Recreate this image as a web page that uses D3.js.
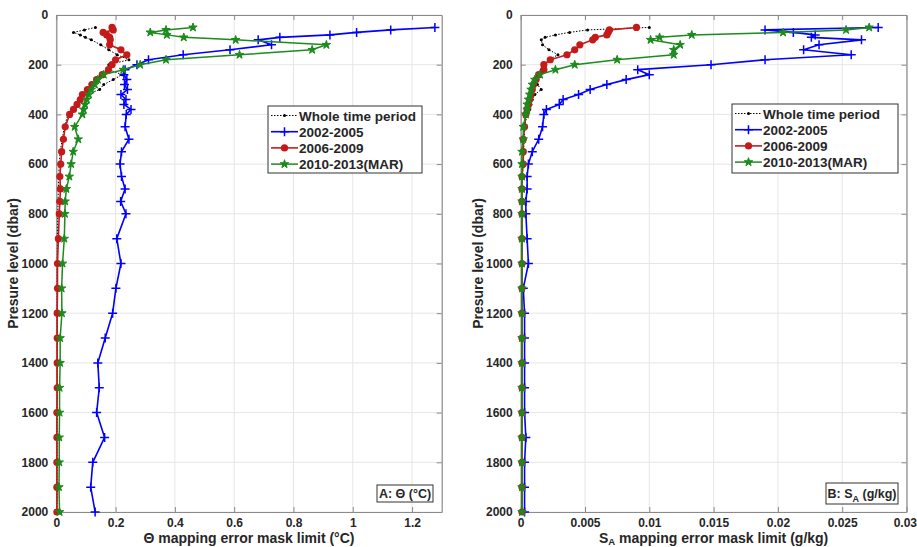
<!DOCTYPE html>
<html>
<head>
<meta charset="utf-8">
<script src="https://cdn.jsdelivr.net/npm/d3@7"></script>
<style>
  html, body { margin: 0; padding: 0; background: #fff; }
  svg text { font-family: "Liberation Sans", Arial, Helvetica, sans-serif; font-weight: bold; fill: #262626; }
</style>
</head>
<body>
<svg id="chart" width="917" height="547"></svg>
<script>
// ---------------- DATA ----------------
const pressure = [50,60,70,80,90,100,120,140,160,180,200,220,240,260,280,300,320,340,360,380,400,
  450,500,550,600,650,700,750,800,900,1000,1100,1200,1300,1400,1500,1600,1700,1800,1900,2000];

const seriesNames = ["Whole time period","2002-2005","2006-2009","2010-2013(MAR)"];

// Panel A: Theta mapping error mask limit (°C)
const thetaWhole = [0.132,0.095,0.058,0.081,0.098,0.118,0.150,0.177,0.205,0.245,0.177,0.177,0.222,0.192,0.160,0.146,0.104,0.085,0.070,0.055,0.040,
  0.027,0.020,0.013,0.010,0.008,0.007,0.006,0.005,0.004,0.003,0.003,0.003,0.003,0.003,0.003,0.003,0.003,0.003,0.003,0.003];
const theta0205 = [1.277,1.128,1.013,0.923,0.754,0.681,0.726,0.586,0.428,0.311,0.272,0.232,0.228,0.238,0.230,0.240,0.218,0.235,0.228,0.252,0.236,
  0.232,0.245,0.220,0.215,0.220,0.232,0.217,0.235,0.204,0.218,0.201,0.190,0.165,0.140,0.145,0.136,0.163,0.123,0.116,0.131];
const theta0609 = [0.188,0.192,0.158,0.170,0.180,0.182,0.180,0.218,0.238,0.200,0.188,0.176,0.155,0.136,0.120,0.105,0.088,0.081,0.070,0.058,0.045,
  0.030,0.024,0.018,0.015,0.012,0.014,0.012,0.010,0.007,0.004,0.004,0.003,0.003,0.003,0.003,0.002,0.002,0.002,0.002,0.002];
const theta1013 = [0.461,0.370,0.317,0.373,0.430,0.605,0.911,0.863,0.618,0.370,0.283,0.226,0.160,0.140,0.130,0.118,0.110,0.103,0.097,0.092,0.088,
  0.062,0.074,0.057,0.050,0.044,0.034,0.030,0.029,0.027,0.021,0.018,0.019,0.013,0.013,0.011,0.011,0.010,0.010,0.009,0.011];

// Panel B: SA mapping error mask limit (g/kg)
const saWhole = [0.0100,0.0052,0.0038,0.0027,0.0019,0.0016,0.0017,0.0022,0.0029,0.0022,0.0018,0.0016,0.0014,0.0012,0.0013,0.0016,0.0011,0.0009,0.0008,0.0007,0.0005,
  0.0003,0.0003,0.0002,0.0002,0.0001,0.0001,0.0001,0.0001,0.0001,0.0001,0.0001,0.0001,0.0001,0.0001,0.0001,0.0001,0.0001,0.0001,0.0001,0.0001];
const sa0205 = [0.0278,0.0190,0.0212,0.0229,0.0226,0.0265,0.0232,0.0220,0.0257,0.0190,0.0148,0.0091,0.0100,0.0082,0.0067,0.0054,0.0045,0.0033,0.0030,0.0020,0.0018,
  0.0017,0.0014,0.0009,0.0006,0.0005,0.0005,0.0004,0.0004,0.0005,0.0006,0.0002,0.0003,0.0003,0.0003,0.0003,0.0003,0.0004,0.0003,0.0003,0.0003];
const sa0609 = [0.0090,0.0069,0.0068,0.0067,0.0058,0.0056,0.0046,0.0042,0.0036,0.0023,0.0018,0.0018,0.0014,0.0012,0.0010,0.0009,0.0008,0.0007,0.0006,0.0005,0.0004,
  0.0003,0.0002,0.0002,0.0002,0.0001,0.0001,0.0001,0.0001,0.0001,0.0001,0.0001,0.0001,0.0001,0.0001,0.0001,0.0001,0.0001,0.0001,0.0001,0.0001];
const sa1013 = [0.0271,0.0253,0.0204,0.0133,0.0108,0.0101,0.0124,0.0119,0.0119,0.0075,0.0042,0.0027,0.0015,0.0011,0.0009,0.0008,0.0007,0.0006,0.0005,0.0005,0.0004,
  0.0002,0.0002,0.0001,0.0001,0.0001,0.0001,0.0001,0.0001,0.0001,0.0001,0.0001,0.0001,0.0001,0.0001,0.0001,0.0001,0.0001,0.0001,0.0001,0.0001];

const pressureTicks = [0,200,400,600,800,1000,1200,1400,1600,1800,2000];
const thetaTicks = [0,0.2,0.4,0.6,0.8,1,1.2];
const saTicks = [0,0.005,0.01,0.015,0.02,0.025,0.03];

// ---------------- STYLE ----------------
const styles = [
  { color: "#000000", width: 1, dash: "1.5,1.5", marker: "dot" },
  { color: "#0000ff", width: 1.6, dash: null, marker: "plus" },
  { color: "#c41a1a", width: 1.6, dash: null, marker: "circle" },
  { color: "#1c8a1c", width: 1.5, dash: null, marker: "star" }
];

const svg = d3.select("#chart");

function drawMarker(g, type, color, x, y) {
  if (type === "dot") {
    g.append("circle").attr("cx", x).attr("cy", y).attr("r", 1.5).attr("fill", color);
  } else if (type === "plus") {
    g.append("path").attr("d", `M${x-4.5},${y}H${x+4.5}M${x},${y-4.5}V${y+4.5}`)
      .attr("stroke", color).attr("stroke-width", 1.5).attr("fill", "none");
  } else if (type === "circle") {
    g.append("circle").attr("cx", x).attr("cy", y).attr("r", 3.6).attr("fill", color);
  } else if (type === "star") {
    g.append("path").attr("d", d3.symbol(d3.symbolStar, 22)())
      .attr("transform", `translate(${x},${y})`).attr("fill", color)
      .attr("stroke", color).attr("stroke-width", 1);
  }
}

function drawPanel(cfg) {
  const x = d3.scaleLinear().domain(cfg.xDomain).range([cfg.left, cfg.right]);
  const y = d3.scaleLinear().domain([0, 2000]).range([15, 512]);
  const g = svg.append("g");

  // grid
  g.append("g").selectAll("line").data(cfg.xTicks).join("line")
    .attr("x1", d => x(d)).attr("x2", d => x(d)).attr("y1", y(0)).attr("y2", y(2000))
    .attr("stroke", "#e6e6e6").attr("stroke-width", 1);
  g.append("g").selectAll("line").data(pressureTicks).join("line")
    .attr("x1", cfg.left).attr("x2", cfg.right).attr("y1", d => y(d)).attr("y2", d => y(d))
    .attr("stroke", "#e6e6e6").attr("stroke-width", 1);

  // axes
  const tickFmt = d => String(d);
  const xAxisB = d3.axisBottom(x).tickValues(cfg.xTicks).tickFormat(tickFmt).tickSizeInner(-5).tickSizeOuter(0).tickPadding(6);
  const xAxisT = d3.axisTop(x).tickValues(cfg.xTicks).tickFormat("").tickSizeInner(-5).tickSizeOuter(0);
  const yAxisL = d3.axisLeft(y).tickValues(pressureTicks).tickFormat(tickFmt).tickSizeInner(-5).tickSizeOuter(0).tickPadding(8);
  const yAxisR = d3.axisRight(y).tickValues(pressureTicks).tickFormat("").tickSizeInner(-5).tickSizeOuter(0);

  const axes = [
    g.append("g").attr("transform", `translate(0,${y(2000)})`).call(xAxisB),
    g.append("g").attr("transform", `translate(0,${y(0)})`).call(xAxisT),
    g.append("g").attr("transform", `translate(${cfg.left},0)`).call(yAxisL),
    g.append("g").attr("transform", `translate(${cfg.right},0)`).call(yAxisR)
  ];
  axes.forEach(a => {
    a.select(".domain").attr("stroke", "#8a8a8a").attr("stroke-width", 1.2);
    a.selectAll(".tick line").attr("stroke", "#8a8a8a");
    a.selectAll(".tick text").attr("fill", "#262626").style("font-size", "12px")
      .style("font-family", '"Liberation Sans", Arial, sans-serif').style("font-weight", "bold");
  });
  // keep the last x tick label inside the window
  axes[0].selectAll(".tick text").filter(d => x(d) > 900).attr("text-anchor", "end").attr("x", 917 - x(cfg.xDomain[1]) - 0.5);

  // series
  cfg.series.forEach((vals, i) => {
    const st = styles[i];
    const pts = vals.map((v, k) => [x(v), y(pressure[k])]);
    const path = g.append("path").attr("d", d3.line()(pts))
      .attr("fill", "none").attr("stroke", st.color).attr("stroke-width", st.width)
      .attr("stroke-linejoin", "round");
    if (st.dash) path.attr("stroke-dasharray", st.dash);
    const mg = g.append("g");
    pts.forEach(p => drawMarker(mg, st.marker, st.color, p[0], p[1]));
  });

  // axis labels
  const xl = g.append("text").attr("x", (cfg.left + cfg.right) / 2).attr("y", 542.5)
    .attr("text-anchor", "middle").style("font-size", "14px");
  cfg.xLabel(xl);
  g.append("text").attr("transform", `translate(${cfg.left - 38},${(y(0)+y(2000))/2}) rotate(-90)`)
    .attr("text-anchor", "middle").style("font-size", "14px").text("Presure level (dbar)");

  // legend
  const L = cfg.legend;
  const lg = g.append("g");
  lg.append("rect").attr("x", L.x).attr("y", L.y).attr("width", L.w).attr("height", L.h)
    .attr("fill", "#fff").attr("stroke", "#333").attr("stroke-width", 1);
  seriesNames.forEach((name, i) => {
    const st = styles[i];
    const yy = L.y + 9.5 + i * 16.2;
    const x0 = L.x + 3, x1 = L.x + 30;
    const ln = lg.append("line").attr("x1", x0).attr("x2", x1).attr("y1", yy).attr("y2", yy)
      .attr("stroke", st.color).attr("stroke-width", st.width);
    if (st.dash) ln.attr("stroke-dasharray", st.dash);
    drawMarker(lg, st.marker, st.color, (x0 + x1) / 2, yy);
    lg.append("text").attr("x", x1 + 1).attr("y", yy + 5).style("font-size", "13.5px").text(name);
  });

  // panel tag
  const T = cfg.tag;
  g.append("rect").attr("x", T.x).attr("y", T.y).attr("width", T.w).attr("height", T.h)
    .attr("fill", "#fff").attr("stroke", "#333").attr("stroke-width", 1);
  const tt = g.append("text").attr("x", T.x + T.w / 2).attr("y", T.y + T.h / 2 + 4.5)
    .attr("text-anchor", "middle").style("font-size", "12.5px");
  T.text(tt);
}

drawPanel({
  left: 56.3, right: 441.7, xDomain: [0, 1.3], xTicks: thetaTicks,
  series: [thetaWhole, theta0205, theta0609, theta1013],
  xLabel: t => t.text("Θ mapping error mask limit (°C)"),
  legend: { x: 268, y: 106, w: 154, h: 67 },
  tag: { x: 377, y: 485, w: 56, h: 17, text: t => t.text("A: Θ (°C)") }
});

drawPanel({
  left: 520.7, right: 906.5, xDomain: [0, 0.03], xTicks: saTicks,
  series: [saWhole, sa0205, sa0609, sa1013],
  xLabel: t => { t.append("tspan").text("S"); t.append("tspan").attr("dy", 2.5).style("font-size", "9.5px").text("A");
                 t.append("tspan").attr("dy", -2.5).text(" mapping error mask limit (g/kg)"); },
  legend: { x: 732, y: 104, w: 166, h: 69 },
  tag: { x: 826, y: 483, w: 72, h: 21, text: t => { t.append("tspan").text("B: S");
         t.append("tspan").attr("dy", 4).style("font-size", "9px").text("A");
         t.append("tspan").attr("dy", -4).text(" (g/kg)"); } }
});
</script>
</body>
</html>
